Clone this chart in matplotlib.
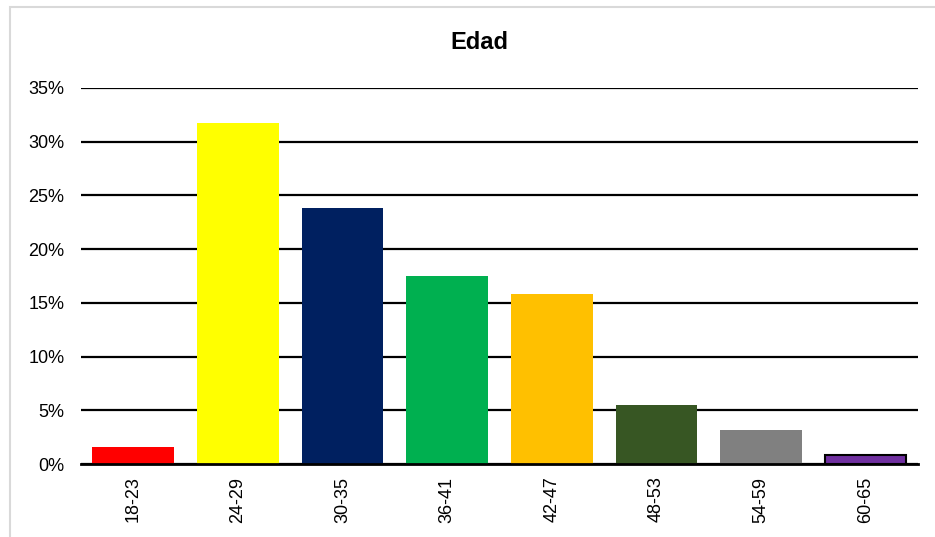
import matplotlib
matplotlib.use("Agg")
import matplotlib.pyplot as plt
from matplotlib.patches import Rectangle
from matplotlib.ticker import PercentFormatter

plt.rcParams['font.family'] = ['Liberation Sans', 'DejaVu Sans']

# datos
categorias = ['18-23', '24-29', '30-35', '36-41', '42-47', '48-53', '54-59', '60-65']
porcentajes = [0.016, 0.317, 0.238, 0.175, 0.158, 0.055, 0.032, 0.008]
colores = ['#FF0000', '#FFFF00', '#002060', '#00B050', '#FFC000',
           '#375623', '#808080', '#7030A0']
bordes = ['none'] * 7 + ['black']
ticks_y = [0, 0.05, 0.10, 0.15, 0.20, 0.25, 0.30, 0.35]

fig = plt.figure(figsize=(9.35, 5.37), dpi=100)
ax = fig.add_axes([0.0866, 0.1359, 0.8952, 0.7003])

# marco gris del area del grafico
fig.patches.append(Rectangle((10 / 935, -0.05), 1.1, 1 - 7 / 537 + 0.05,
                             transform=fig.transFigure, fill=False,
                             edgecolor='#d9d9d9', linewidth=1.5, zorder=0))

x = range(len(categorias))
ax.bar(x, porcentajes, width=0.78, color=colores, edgecolor=bordes,
       linewidth=1.5, zorder=3)

ax.set_ylim(0, 0.35)
ax.set_xlim(-0.5, len(categorias) - 0.5)
ax.set_yticks(ticks_y)
ax.yaxis.set_major_formatter(PercentFormatter(1.0, decimals=0))
ax.grid(axis='y', color='black', linewidth=1.6, zorder=1)
ax.set_xticks(list(x))
ax.set_xticklabels(categorias, rotation=90)
ax.tick_params(axis='both', length=0, labelsize=13)
ax.tick_params(axis='x', pad=9)
ax.tick_params(axis='y', pad=12)

for s in ['top', 'right', 'left']:
    ax.spines[s].set_visible(False)
ax.spines['bottom'].set_linewidth(2)
ax.spines['bottom'].set_zorder(4)

ax.set_title('Edad', fontsize=17, fontweight='bold', pad=28, x=0.4755)

fig.savefig('out.png', dpi=100)
